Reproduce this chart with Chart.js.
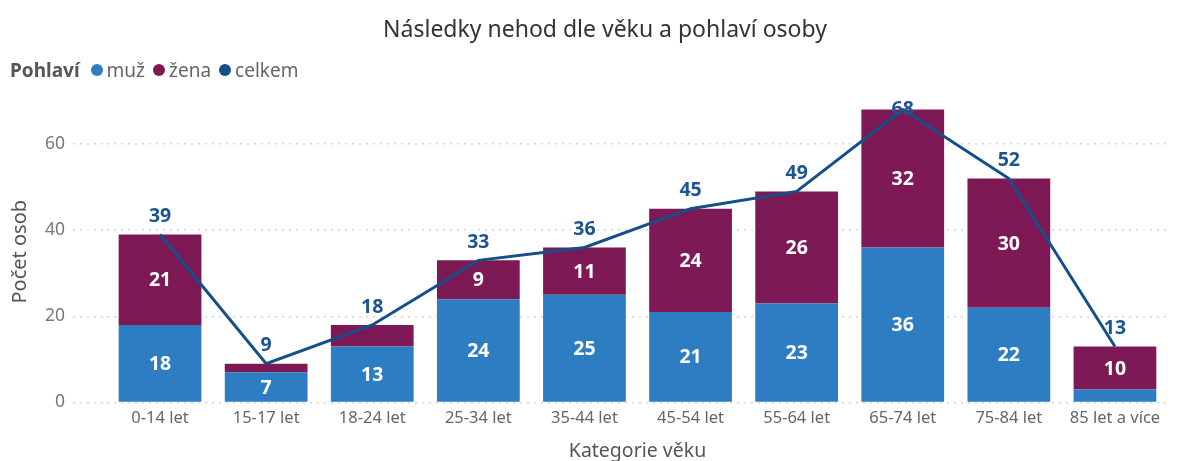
<!DOCTYPE html>
<html>
<head>
<meta charset="utf-8">
<script src="https://cdn.jsdelivr.net/npm/chart.js@4.4.1/dist/chart.umd.min.js"></script>
<style>
  html, body { margin: 0; padding: 0; background: #fff; }
  #wrap { position: relative; width: 1190px; height: 461px; }
  #title { position: absolute; left: 20px; top: 13px; width: 1170px; text-align: center;
           font-family: "Noto Sans", "Open Sans", sans-serif; font-size: 23px; color: #333; line-height: 30px; }
  #legend { position: absolute; left: 10px; top: 57px; height: 26px; display: flex; align-items: center;
            font-family: "Noto Sans", "Open Sans", sans-serif; font-size: 19px; color: #666; }
  #legend .ttl { font-weight: bold; color: #555; margin-right: 11px; }
  #legend .it { display: flex; align-items: center; margin-right: 8px; }
  #legend .dot { width: 12px; height: 12px; border-radius: 50%; margin-right: 4px; }
</style>
</head>
<body>
<div id="wrap">
  <canvas id="c" width="1190" height="461"></canvas>
  <div id="title">Následky nehod dle věku a pohlaví osoby</div>
  <div id="legend"></div>
</div>
<script>
const categories = ["0-14 let", "15-17 let", "18-24 let", "25-34 let", "35-44 let", "45-54 let", "55-64 let", "65-74 let", "75-84 let", "85 let a více"];
const muz   = [18, 7, 13, 24, 25, 21, 23, 36, 22, 3];
const zena  = [21, 2, 5, 9, 11, 24, 26, 32, 30, 10];
const celkem = [39, 9, 18, 33, 36, 45, 49, 68, 52, 13];
const yTicks = [0, 20, 40, 60];

const seriesNames = ["muž", "žena", "celkem"];
const colors = ["#2E7DC3", "#7D1A55", "#154F89"];
const FONT = '"Noto Sans", "Open Sans", sans-serif';

const lg = document.getElementById('legend');
lg.innerHTML = '<span class="ttl">Pohlaví</span>' + seriesNames.map((n, i) =>
  `<span class="it"><span class="dot" style="background:${colors[i]}"></span>${n}</span>`).join('');

const labelPlugin = {
  id: 'valueLabels',
  afterDatasetsDraw(chart) {
    const ctx = chart.ctx;
    ctx.save();
    ctx.textAlign = 'center';
    ctx.textBaseline = 'middle';
    [0, 1].forEach(di => {
      const meta = chart.getDatasetMeta(di);
      const data = chart.data.datasets[di].data;
      meta.data.forEach((el, i) => {
        if (data[i] < 6) return;
        const yc = (el.y + el.base) / 2;
        ctx.font = 'bold 19.5px ' + FONT;
        ctx.fillStyle = '#ffffff';
        ctx.fillText(String(data[i]), el.x, yc + 1);
      });
    });
    const meta = chart.getDatasetMeta(2);
    const data = chart.data.datasets[2].data;
    meta.data.forEach((el, i) => {
      ctx.font = 'bold 19.5px ' + FONT;
      ctx.fillStyle = '#1E5490';
      const y = Math.max(el.y - 18, chart.chartArea.top + 8);
      ctx.fillText(String(data[i]), el.x, y);
    });
    ctx.restore();
  }
};

new Chart(document.getElementById('c'), {
  data: {
    labels: categories,
    datasets: [
      { type: 'bar', label: seriesNames[0], data: muz, backgroundColor: colors[0], stack: 's', order: 2,
        categoryPercentage: 1, barPercentage: 0.78 },
      { type: 'bar', label: seriesNames[1], data: zena, backgroundColor: colors[1], stack: 's', order: 2,
        categoryPercentage: 1, barPercentage: 0.78 },
      { type: 'line', label: seriesNames[2], data: celkem, borderColor: colors[2], borderWidth: 3,
        pointRadius: 0, tension: 0, order: 1, yAxisID: 'y2' }
    ]
  },
  options: {
    responsive: false,
    animation: false,
    layout: { padding: { left: 8, right: 22, top: 101, bottom: 0 } },
    plugins: {
      legend: { display: false },
      tooltip: { enabled: false },
      title: { display: false }
    },
    scales: {
      x: {
        stacked: true,
        afterFit: s => { s.height = 58.5; },
        grid: { display: false },
        border: { display: false },
        ticks: { color: '#666', font: { family: FONT, size: 16.5 }, padding: -2, maxRotation: 0, autoSkip: false },
        title: { display: true, text: 'Kategorie věku', color: '#555', font: { family: FONT, size: 19.5 }, padding: { top: 8, bottom: -2 } }
      },
      y: {
        stacked: true,
        min: 0, max: 70,
        afterBuildTicks: s => { s.ticks = yTicks.map(v => ({ value: v })); },
        afterFit: s => { s.width = 99; },
        grid: { color: '#d6d6d6', lineWidth: 1.5, tickLength: 34, tickBorderDash: [2, 5], tickColor: '#d6d6d6', tickWidth: 1.5 },
        border: { display: false, dash: [2, 5] },
        ticks: { color: '#777', font: { family: FONT, size: 17.5 }, padding: 8 },
        title: { display: true, text: 'Počet osob', color: '#555', font: { family: FONT, size: 20 }, padding: 0 }
      },
      y2: { display: false, min: 0, max: 70 }
    }
  },
  plugins: [labelPlugin]
});
</script>
</body>
</html>
